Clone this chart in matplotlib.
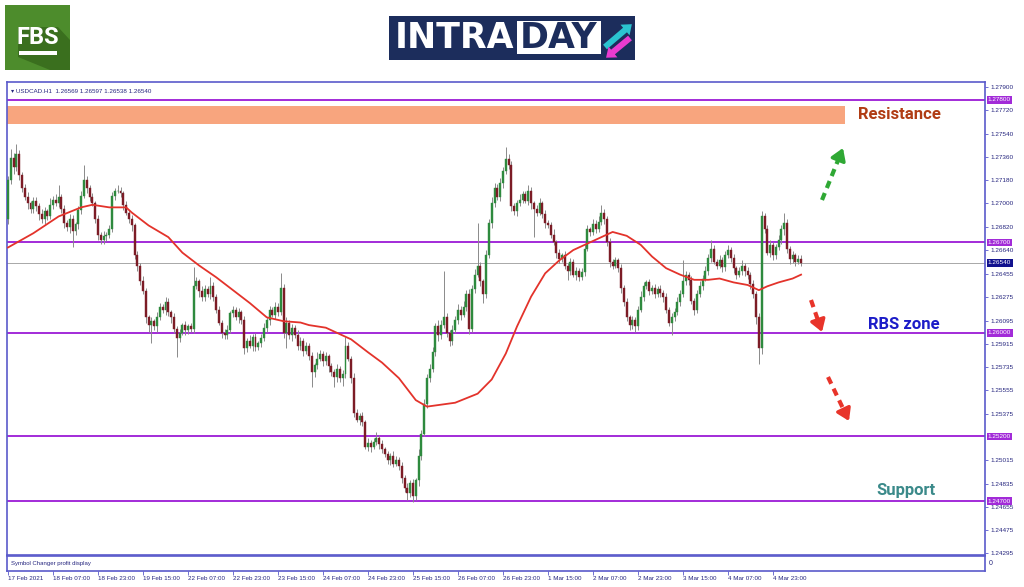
import matplotlib.pyplot as plt
import numpy as np
from matplotlib.patches import Rectangle, Polygon, FancyArrow
import matplotlib.transforms as mtransforms

# USDCAD H1 closes, one per hourly bar
closes = [
    1.2718, 1.2735, 1.2728, 1.2738, 1.2722, 1.2712, 1.2705, 1.2700, 1.2696, 1.2702,
    1.2698, 1.2692, 1.2688, 1.2694, 1.2690, 1.2699, 1.2703, 1.2700, 1.2705, 1.2696,
    1.2685, 1.2682, 1.2688, 1.2679, 1.2684, 1.2695, 1.2706, 1.2718, 1.2712, 1.2705,
    1.2700, 1.2688, 1.2676, 1.2672, 1.2675, 1.2676, 1.2680, 1.2706, 1.2710, 1.2710,
    1.2708, 1.2699, 1.2693, 1.2688, 1.2683, 1.2660, 1.2652, 1.2640, 1.2632, 1.2612,
    1.2606, 1.2609, 1.2605, 1.2612, 1.2620, 1.2618, 1.2624, 1.2616, 1.2612, 1.2603,
    1.2596, 1.2600, 1.2606, 1.2602, 1.2605, 1.2603, 1.2636, 1.2640, 1.2632, 1.2628,
    1.2634, 1.2630, 1.2636, 1.2628, 1.2618, 1.2608, 1.2600, 1.2598, 1.2602, 1.2615,
    1.2618, 1.2612, 1.2616, 1.2610, 1.2588, 1.2594, 1.2590, 1.2597, 1.2589, 1.2592,
    1.2596, 1.2604, 1.2610, 1.2618, 1.2614, 1.2620, 1.2616, 1.2635, 1.2600, 1.2608,
    1.2598, 1.2604, 1.2598, 1.2590, 1.2594, 1.2586, 1.2590, 1.2582, 1.2570, 1.2575,
    1.2580, 1.2584, 1.2578, 1.2582, 1.2574, 1.2570, 1.2566, 1.2572, 1.2565, 1.2568,
    1.2590, 1.2580, 1.2565, 1.2538, 1.2533, 1.2536, 1.2531, 1.2512, 1.2515, 1.2512,
    1.2516, 1.2519, 1.2514, 1.2510, 1.2506, 1.2502, 1.2505, 1.2499, 1.2502, 1.2497,
    1.2488, 1.2480, 1.2476, 1.2484, 1.2474, 1.2486, 1.2505, 1.2522, 1.2545, 1.2565,
    1.2572, 1.2585, 1.2605, 1.2598, 1.2606, 1.2612, 1.2600, 1.2594, 1.2602, 1.2610,
    1.2618, 1.2614, 1.2620, 1.2630, 1.2603, 1.2634, 1.2645, 1.2652, 1.2640, 1.2630,
    1.2660, 1.2685, 1.2700, 1.2712, 1.2705, 1.2716, 1.2725, 1.2734, 1.2730, 1.2698,
    1.2694, 1.2700, 1.2703, 1.2707, 1.2702, 1.2710, 1.2700, 1.2696, 1.2693, 1.2700,
    1.2692, 1.2685, 1.2683, 1.2676, 1.2670, 1.2662, 1.2657, 1.2660, 1.2652, 1.2648,
    1.2655, 1.2645, 1.2648, 1.2643, 1.2647, 1.2665, 1.2680, 1.2678, 1.2684, 1.2680,
    1.2686, 1.2693, 1.2688, 1.2670, 1.2655, 1.2652, 1.2656, 1.2650, 1.2635, 1.2624,
    1.2612, 1.2606, 1.2610, 1.2605, 1.2618, 1.2628, 1.2636, 1.2639, 1.2632, 1.2635,
    1.2630, 1.2634, 1.2631, 1.2628, 1.2618, 1.2608, 1.2612, 1.2616, 1.2624, 1.2630,
    1.2640, 1.2645, 1.2641, 1.2625, 1.2618, 1.2630, 1.2636, 1.2642, 1.2648, 1.2658,
    1.2665, 1.2655, 1.2652, 1.2656, 1.2651, 1.2660, 1.2664, 1.2658, 1.2650, 1.2645,
    1.2648, 1.2652, 1.2648, 1.2645, 1.2638, 1.2630, 1.2612, 1.2588, 1.2690, 1.2680,
    1.2662, 1.2668, 1.2660, 1.2666, 1.2672, 1.2680, 1.2685, 1.2665, 1.2657, 1.2660,
    1.2655, 1.2657, 1.2654,
]
first_open = 1.2688

# wick lengths above / below the body, in pips
wick_up = [
    3, 7, 4, 8, 3, 2, 3, 4, 2, 3,   3, 2, 4, 3, 2, 5, 3, 4, 9, 2,
    3, 2, 4, 3, 2, 3, 4, 12, 3, 2,  3, 2, 3, 2, 4, 2, 3, 3, 2, 4,
    3, 2, 3, 2, 3, 2, 3, 2, 4, 3,   2, 3, 2, 4, 3, 2, 4, 3, 2, 3,
    2, 3, 2, 3, 2, 3, 15, 3, 2, 4,  3, 2, 7, 3, 2, 3, 2, 3, 4, 2,
    3, 2, 3, 2, 3, 2, 4, 2, 3, 2,   3, 4, 2, 3, 2, 4, 3, 11, 3, 4,
    2, 3, 2, 4, 3, 2, 3, 2, 3, 2,   5, 3, 2, 3, 2, 3, 2, 4, 2, 3,
    7, 3, 2, 4, 3, 2, 3, 2, 4, 2,   3, 4, 2, 3, 2, 3, 2, 4, 3, 2,
    3, 2, 4, 2, 3, 2, 5, 3, 4, 3,   4, 4, 3, 5, 4, 36, 3, 2, 4, 3,
    4, 3, 5, 3, 4, 3, 4, 33, 3, 2,  4, 3, 5, 4, 3, 4, 3, 10, 4, 3,
    2, 3, 4, 3, 3, 4, 3, 2, 3, 4,   2, 3, 2, 3, 4, 2, 3, 2, 3, 2,
    3, 2, 3, 2, 3, 4, 3, 2, 4, 3,   4, 6, 3, 2, 3, 2, 3, 2, 3, 2,
    3, 2, 3, 2, 3, 4, 3, 2, 3, 2,   3, 2, 3, 2, 3, 2, 3, 3, 4, 3,
    16, 3, 2, 3, 2, 3, 4, 3, 4, 3,  7, 3, 2, 4, 3, 3, 4, 2, 3, 2,
    3, 4, 2, 3, 2, 3, 2, 3, 4, 3,   3, 4, 2, 3, 4, 3, 8, 3, 2, 3,
    2, 3, 3,
]
wick_dn = [
    4, 3, 5, 3, 4, 3, 2, 4, 3, 3,   4, 5, 3, 4, 3, 2, 3, 2, 3, 3,
    4, 3, 5, 13, 3, 4, 3, 2, 4, 3,  2, 3, 4, 3, 3, 4, 3, 2, 3, 2,
    3, 4, 2, 3, 4, 3, 4, 3, 2, 4,   5, 14, 3, 4, 2, 3, 4, 3, 4, 3,
    15, 3, 2, 4, 3, 2, 3, 2, 4, 3,  3, 2, 4, 3, 3, 2, 4, 3, 3, 2,
    3, 2, 4, 3, 4, 3, 2, 4, 3, 2,   3, 2, 3, 4, 2, 3, 3, 2, 4, 12,
    3, 4, 2, 3, 3, 4, 2, 3, 12, 4,  3, 2, 4, 3, 4, 3, 8, 4, 3, 6,
    3, 2, 4, 3, 2, 4, 3, 2, 3, 4,   2, 3, 4, 3, 2, 3, 4, 3, 2, 3,
    4, 3, 5, 3, 5, 3, 4, 3, 2, 3,   3, 2, 3, 4, 3, 2, 3, 4, 3, 2,
    3, 4, 2, 3, 4, 2, 3, 2, 4, 7,   3, 2, 4, 3, 2, 3, 4, 2, 3, 4,
    3, 4, 2, 3, 2, 3, 4, 22, 3, 2,  3, 4, 2, 3, 2, 4, 3, 2, 3, 7,
    3, 2, 4, 3, 2, 3, 2, 3, 2, 3,   2, 3, 4, 3, 4, 3, 2, 3, 4, 3,
    3, 4, 3, 4, 3, 2, 3, 2, 3, 2,   3, 2, 3, 4, 3, 3, 10, 3, 2, 3,
    2, 3, 4, 3, 4, 3, 2, 3, 2, 3,   3, 2, 3, 2, 4, 3, 2, 3, 4, 3,
    2, 3, 4, 3, 4, 3, 5, 12, 4, 3,  2, 3, 4, 3, 2, 3, 4, 3, 4, 3,
    3, 2, 2,
]

# red moving average, read at these bars
ma_bar = [0, 9, 18, 26, 30, 36, 42, 44, 50, 57, 62, 68, 74, 80, 86, 92, 98, 104,
          107, 113, 117, 122, 128, 133, 139, 145, 149, 159, 167, 172, 177, 181,
          186, 191, 196, 201, 206, 212, 215, 220, 225, 229, 234, 239, 244, 249,
          253, 258, 263, 267, 270, 274, 279, 282]
ma_val = [1.2666, 1.2677, 1.2690, 1.2697, 1.2699, 1.2697, 1.2697, 1.2693, 1.2683,
          1.2674, 1.2662, 1.2652, 1.2643, 1.2633, 1.2623, 1.2612, 1.2609, 1.2608,
          1.2606, 1.2604, 1.2600, 1.2595, 1.2585, 1.2577, 1.2565, 1.2548, 1.2543,
          1.2546, 1.2553, 1.2564, 1.2584, 1.2605, 1.2628, 1.2646, 1.2656, 1.2664,
          1.2669, 1.2675, 1.2678, 1.2675, 1.2668, 1.2659, 1.2650, 1.2645, 1.2641,
          1.2641, 1.2642, 1.2639, 1.2637, 1.2633, 1.2636, 1.2639, 1.2642, 1.2645]

levels = [1.2780, 1.2670, 1.2600, 1.2520, 1.2470]
last_price = 1.2654
resist_lo, resist_hi = 1.27614, 1.27754

time_labels = ['17 Feb 2021', '18 Feb 07:00', '18 Feb 23:00', '19 Feb 15:00',
               '22 Feb 07:00', '22 Feb 23:00', '23 Feb 15:00', '24 Feb 07:00',
               '24 Feb 23:00', '25 Feb 15:00', '26 Feb 07:00', '26 Feb 23:00',
               '1 Mar 15:00', '2 Mar 07:00', '2 Mar 23:00', '3 Mar 15:00',
               '4 Mar 07:00', '4 Mar 23:00']
price_ticks = [1.27900, 1.27720, 1.27540, 1.27360, 1.27180, 1.27000, 1.26820,
               1.26640, 1.26455, 1.26275, 1.26095, 1.25915, 1.25735, 1.25555,
               1.25375, 1.25015, 1.24835, 1.24655, 1.24475, 1.24295]

frame = '#5a5acb'
navy = '#26267f'
purple = '#a22bd8'

W, H = 1024, 587
fig = plt.figure(figsize=(W / 100, H / 100), dpi=100)


def box(l, t, r, b):
    return [l / W, 1 - b / H, (r - l) / W, (b - t) / H]


ax = fig.add_axes(box(7, 82, 985, 555))
ax2 = fig.add_axes(box(7, 556, 985, 571))

# candles
c = np.array(closes)
o = np.r_[first_open, c[:-1]]
idx = np.arange(len(c))
hi = np.maximum(o, c) + np.array(wick_up) * 1e-4
lo = np.minimum(o, c) - np.array(wick_dn) * 1e-4
ax.vlines(idx, lo, hi, color='#8a8a8a', lw=0.7, zorder=2)
up = c >= o
ax.bar(idx[up], (c - o)[up], bottom=o[up], width=0.7, color='#2e8a3e',
       edgecolor='#2e8a3e', lw=0.3, zorder=3)
ax.bar(idx[~up], (o - c)[~up], bottom=c[~up], width=0.7, color='#7c1c26',
       edgecolor='#7c1c26', lw=0.3, zorder=3)

ax.plot(ma_bar, ma_val, color='#e3332b', lw=1.3, zorder=4)

xlim = (-0.36, 347.4)
ax.set_xlim(*xlim)
ax2.set_xlim(*xlim)
ax.set_ylim(1.24283, 1.27939)

# resistance zone and levels
ax.add_patch(Rectangle((xlim[0], resist_lo), 298, resist_hi - resist_lo,
                       fc='#f8a57e', ec='none', zorder=1))
for lv in levels:
    ax.axhline(lv, color=purple, lw=1.4, zorder=1.5)
ax.axhline(last_price, color='#a8a8a8', lw=0.7, zorder=1.5)

ax.text(302.2, 1.27684, 'Resistance', color='#b03c14', fontsize=12,
        family='Roboto', weight='bold', va='center')
ax.text(305.8, 1.26061, 'RBS zone', color='#1c1cc8', fontsize=12,
        family='Roboto', weight='bold', va='center')
ax.text(308.6, 1.24785, 'Support', color='#3b8a8a', fontsize=12,
        family='Roboto', weight='bold', va='center')

# price axis on the right
ax.yaxis.tick_right()
ax.set_yticks(price_ticks)
ax.set_yticklabels([f'{p:.5f}' for p in price_ticks])
ax.tick_params(axis='y', length=2.5, width=0.6, color=frame, labelsize=4.6,
               labelcolor=navy, pad=1.5)
for t in ax.get_yticklabels():
    t.set_family('Liberation Sans')
ax.set_xticks([])
trans = mtransforms.blended_transform_factory(ax.transAxes, ax.transData)
for lv in levels:
    ax.text(1.003, lv, f'{lv:.5f}', transform=trans, fontsize=4.6, color='white',
            family='Liberation Sans', va='center', ha='left', zorder=6,
            bbox=dict(boxstyle='square,pad=0.2', fc=purple, ec='none'))
ax.text(1.003, last_price, f'{last_price:.5f}', transform=trans, fontsize=4.6,
        color='white', family='Liberation Sans', va='center', ha='left', zorder=6,
        bbox=dict(boxstyle='square,pad=0.2', fc='#12128e', ec='none'))

ax.text(0.004, 0.985, '\u25be USDCAD.H1  1.26569 1.26597 1.26538 1.26540',
        transform=ax.transAxes, fontsize=4.5, color=navy, va='top',
        family=['Liberation Sans', 'DejaVu Sans'])

for a in (ax, ax2):
    for s in a.spines.values():
        s.set_color(frame)
        s.set_linewidth(1.2)

# bottom panel with the time axis
ax2.set_yticks([])
ax2.set_xticks(np.arange(len(time_labels)) * 16)
ax2.set_xticklabels(time_labels, ha='left')
ax2.tick_params(axis='x', length=3, width=0.6, color=frame, labelsize=4.5,
                labelcolor=navy, pad=0.5)
for t in ax2.get_xticklabels():
    t.set_family('Liberation Sans')
ax2.text(0.004, 0.5, 'Symbol Changer profit display', transform=ax2.transAxes,
         fontsize=4.3, color=navy, va='center', family='Liberation Sans')
ax2.text(1.004, 0.5, '0', transform=ax2.transAxes, fontsize=5, color=navy,
         va='center', family='Liberation Sans')

# overlay in pixel units for logos and arrows
ov = fig.add_axes([0, 0, 1, 1], zorder=10)
ov.set_xlim(0, W)
ov.set_ylim(H, 0)
ov.axis('off')

# FBS logo
ov.add_patch(Rectangle((5, 5), 65, 65, fc='#4d8c2c', ec='none'))
ov.add_patch(Polygon([(18, 27), (58, 27), (70, 40), (70, 70), (50, 70), (18, 57)],
                     closed=True, fc='#3a6f1e', ec='none'))
ov.text(38, 37, 'FBS', color='white', fontsize=17, weight='bold',
        family='Roboto', ha='center', va='center')
ov.add_patch(Rectangle((19, 51), 38, 3.5, fc='white', ec='none'))

# INTRADAY logo
ov.add_patch(Rectangle((389, 16), 246, 44, fc='#1c2d5c', ec='none'))
ov.text(395, 38.5, 'INTRA', color='white', fontsize=25, weight='bold',
        ha='left', va='center')
ov.add_patch(Rectangle((517, 21), 84, 33, fc='white', ec='none'))
ov.text(559, 38.5, 'DAY', color='#1c2d5c', fontsize=25, weight='bold',
        ha='center', va='center')
ov.add_patch(FancyArrow(605, 47, 20, -17, width=6, head_width=14, head_length=9,
                        length_includes_head=False, fc='#2bc3d0', ec='none'))
ov.add_patch(FancyArrow(630, 38, -17, 14, width=6, head_width=14, head_length=9,
                        length_includes_head=False, fc='#ea3bd0', ec='none'))


def dashed_arrow(x0, y0, x1, y1, color):
    f = 0.78
    xm, ym = x0 + (x1 - x0) * f, y0 + (y1 - y0) * f
    ov.plot([x0, xm], [y0, ym], color=color, lw=3, ls=(0, (1.8, 1.3)),
            solid_capstyle='butt')
    ov.annotate('', xy=(x1, y1), xytext=(xm, ym),
                arrowprops=dict(arrowstyle='-|>,head_length=0.7,head_width=0.45',
                                color=color, lw=2.5, shrinkA=0, shrinkB=0))


dashed_arrow(822, 200, 843, 148, '#2fa834')
dashed_arrow(811, 300, 822, 332, '#e8342a')
dashed_arrow(828, 377, 849, 421, '#e8342a')

fig.savefig('out.png', dpi=100, facecolor='white')
